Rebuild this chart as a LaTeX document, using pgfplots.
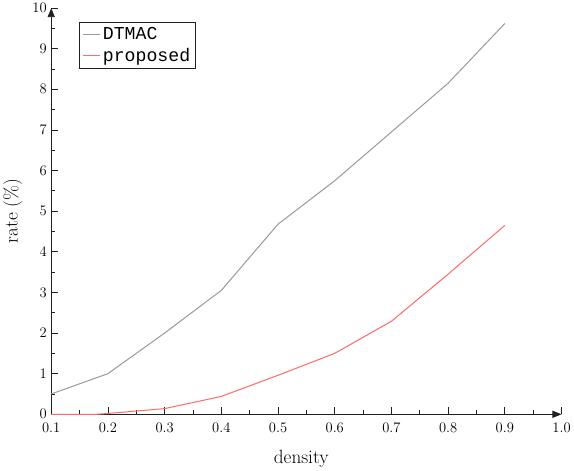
\documentclass[border=0pt]{standalone}
\usepackage{pgfplots}
\pgfplotsset{compat=1.18}
\usetikzlibrary{arrows.meta}
\usepackage{fontspec}
\newfontfamily\mono{Liberation Mono}
\definecolor{linegray}{HTML}{9A9A9A}
\definecolor{linered}{HTML}{FF6A6A}
\definecolor{tickdark}{HTML}{202020}

\begin{document}
\begin{tikzpicture}
\begin{axis}[
  scale only axis,
  width=505pt,height=402pt,
  xmin=0.1,xmax=1.0,ymin=0,ymax=10,
  axis x line=bottom,axis y line=left,
  axis line style={tickdark,line width=0.8pt,-{Triangle[length=9pt,width=7pt]}},
  xtick={0.1,0.2,...,1.0},
  ytick={0,1,...,10},
  minor x tick num=1,minor y tick num=1,
  xtick align=inside,ytick align=inside,
  major tick length=7pt,minor tick length=4pt,
  tick style={color=tickdark,line width=0.8pt},
  xticklabel style={font=\fontsize{15}{15}\selectfont,yshift=-5pt,
    /pgf/number format/.cd,fixed,fixed zerofill,precision=1},
  yticklabel style={font=\fontsize{15}{15}\selectfont,xshift=-1pt},
  xlabel={density},
  ylabel={rate (\%)},
  xlabel style={font=\fontsize{19}{19}\selectfont,at={(axis description cs:0.49,-0.11)},anchor=center},
  ylabel style={font=\fontsize{19}{19}\selectfont,at={(axis description cs:-0.075,0.5)},anchor=center},
  legend style={at={(axis description cs:0.055,0.965)},anchor=north west,
    draw=tickdark,line width=0.6pt,
    font=\fontsize{18}{20}\selectfont,row sep=3pt,inner xsep=3pt,inner ysep=3pt},
  legend cell align=left,
]
\addplot[color=linegray,line width=1pt] coordinates {
  (0.1,0.5) (0.2,1.0) (0.3,2.0) (0.4,3.05) (0.5,4.68)
  (0.6,5.75) (0.7,6.95) (0.8,8.15) (0.9,9.62)};
\addlegendentry{\mono DTMAC}
\addplot[color=linered,line width=1pt] coordinates {
  (0.1,0) (0.18,0) (0.2,0.02) (0.3,0.14) (0.4,0.44) (0.5,0.96)
  (0.6,1.5) (0.7,2.29) (0.8,3.45) (0.9,4.65)};
\addlegendentry{\mono proposed}
\end{axis}
\end{tikzpicture}
\end{document}
